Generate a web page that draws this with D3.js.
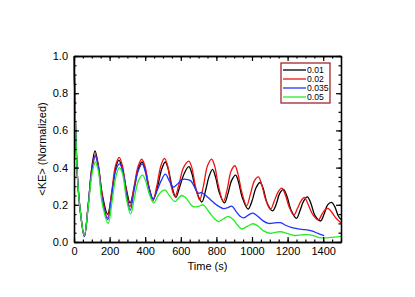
<!DOCTYPE html>
<html>
<head>
<meta charset="utf-8">
<script src="https://cdn.jsdelivr.net/npm/d3@7"></script>
<style>
  body { margin: 0; background: #fff; }
  svg { font-family: "Liberation Sans", Arial, sans-serif; }
</style>
</head>
<body>
<svg id="chart" width="415" height="297"></svg>
<script>
// kinetic energy vs time, one series per parameter value
const labels = ["0.01", "0.02", "0.035", "0.05"];
const colors = ["#000000", "#ee1111", "#2233ff", "#22ee22"];

const ke001 = [[0,1.0],[5,0.77],[10,0.58],[20,0.34],[35,0.17],[58,0.03],[80,0.2],[100,0.4],[118,0.49],[135,0.42],[160,0.25],[189,0.15],[215,0.28],[235,0.4],[252,0.44],[270,0.4],[295,0.28],[315,0.21],[340,0.3],[360,0.39],[382,0.43],[400,0.39],[420,0.3],[445,0.23],[470,0.3],[492,0.39],[513,0.43],[530,0.39],[550,0.3],[572,0.24],[595,0.3],[620,0.37],[645,0.405],[662,0.37],[682,0.29],[718,0.215],[740,0.28],[758,0.35],[778,0.39],[795,0.35],[815,0.27],[845,0.21],[865,0.26],[885,0.33],[908,0.36],[925,0.32],[945,0.24],[978,0.177],[1000,0.22],[1022,0.29],[1045,0.32],[1062,0.29],[1085,0.21],[1115,0.167],[1135,0.2],[1155,0.26],[1176,0.283],[1195,0.25],[1220,0.17],[1250,0.127],[1270,0.17],[1290,0.22],[1311,0.243],[1330,0.21],[1355,0.14],[1385,0.113],[1405,0.15],[1425,0.2],[1447,0.213],[1465,0.19],[1485,0.14],[1500,0.12]];

const ke002 = [[0,1.0],[5,0.77],[10,0.58],[20,0.34],[35,0.17],[58,0.03],[80,0.2],[100,0.39],[120,0.47],[137,0.41],[160,0.24],[188,0.13],[212,0.27],[233,0.41],[254,0.455],[272,0.41],[295,0.27],[314,0.19],[338,0.3],[358,0.4],[380,0.445],[398,0.41],[420,0.3],[443,0.22],[465,0.3],[488,0.41],[508,0.45],[526,0.41],[546,0.3],[567,0.245],[590,0.31],[615,0.4],[645,0.435],[662,0.4],[682,0.3],[706,0.226],[727,0.3],[750,0.41],[773,0.446],[790,0.41],[812,0.3],[839,0.217],[860,0.28],[882,0.38],[904,0.41],[920,0.37],[942,0.27],[970,0.195],[992,0.26],[1014,0.33],[1036,0.35],[1054,0.31],[1076,0.23],[1104,0.175],[1125,0.22],[1147,0.27],[1167,0.29],[1185,0.26],[1208,0.19],[1236,0.145],[1255,0.18],[1275,0.22],[1294,0.24],[1312,0.21],[1340,0.15],[1373,0.118],[1393,0.15],[1412,0.175],[1429,0.18],[1448,0.16],[1475,0.125],[1500,0.104]];

const ke0035 = [[0,1.0],[5,0.77],[10,0.58],[20,0.34],[35,0.17],[58,0.03],[80,0.2],[100,0.38],[120,0.46],[137,0.4],[160,0.22],[190,0.12],[212,0.25],[233,0.38],[255,0.42],[272,0.39],[295,0.25],[316,0.17],[338,0.28],[360,0.38],[383,0.42],[400,0.38],[420,0.29],[445,0.23],[468,0.28],[490,0.33],[513,0.365],[535,0.33],[558,0.295],[580,0.31],[605,0.335],[630,0.337],[655,0.33],[680,0.29],[700,0.262],[717,0.266],[740,0.25],[770,0.225],[800,0.2],[840,0.18],[865,0.185],[886,0.193],[910,0.165],[935,0.137],[955,0.13],[980,0.145],[1005,0.155],[1030,0.14],[1060,0.115],[1092,0.1],[1130,0.103],[1160,0.104],[1190,0.09],[1220,0.078],[1260,0.07],[1300,0.066],[1340,0.058],[1370,0.046],[1405,0.034]];

const ke005 = [[0,1.0],[5,0.77],[10,0.58],[20,0.34],[35,0.17],[58,0.035],[80,0.19],[100,0.36],[120,0.43],[137,0.38],[160,0.2],[192,0.1],[214,0.22],[235,0.35],[255,0.4],[272,0.37],[295,0.23],[318,0.15],[340,0.24],[362,0.33],[385,0.36],[402,0.33],[422,0.26],[448,0.21],[470,0.245],[490,0.27],[511,0.28],[532,0.255],[567,0.217],[586,0.235],[605,0.25],[625,0.24],[670,0.19],[700,0.192],[726,0.2],[760,0.16],[790,0.125],[811,0.11],[840,0.125],[867,0.138],[895,0.12],[920,0.09],[942,0.07],[975,0.085],[1005,0.098],[1035,0.085],[1065,0.06],[1100,0.047],[1130,0.052],[1160,0.055],[1200,0.045],[1240,0.035],[1280,0.038],[1310,0.04],[1345,0.034],[1380,0.024],[1420,0.022],[1460,0.026],[1500,0.03]];

const series = [ke001, ke002, ke0035, ke005];

const xTicks = [0, 200, 400, 600, 800, 1000, 1200, 1400];
const yTicks = [0, 0.2, 0.4, 0.6, 0.8, 1.0];

const margin = {top: 56, right: 74, bottom: 55, left: 74};
const width = 415, height = 297;

const svg = d3.select("#chart");

const x = d3.scaleLinear()
    .domain([0, 1500])
    .range([margin.left, width - margin.right]);

const y = d3.scaleLinear()
    .domain([0, 1])
    .range([height - margin.bottom, margin.top]);

const minorX = d3.range(0, 1501, 50);
const minorY = d3.range(0, 1.001, 0.05);

function styleAxis(g) {
  g.select(".domain").attr("stroke", "#000").attr("stroke-width", 1.3);
  g.selectAll(".tick line").attr("stroke", "#000").attr("stroke-width", 1.2);
  g.selectAll(".tick text").attr("fill", "#000").attr("font-size", 11);
}

// lines first, axes on top
const line = d3.line()
    .x(d => x(d[0]))
    .y(d => y(d[1]))
    .curve(d3.curveCatmullRom);

const plot = svg.append("g");
series.forEach((s, i) => {
  plot.append("path")
      .datum(s)
      .attr("fill", "none")
      .attr("stroke", colors[i])
      .attr("stroke-width", 1.3)
      .attr("stroke-linejoin", "round")
      .attr("d", line);
});

// bottom
svg.append("g")
    .attr("transform", `translate(0,${y(0)})`)
    .call(d3.axisBottom(x).tickValues(minorX).tickSize(-2.5).tickSizeOuter(0).tickFormat(""))
    .call(styleAxis);
svg.append("g")
    .attr("transform", `translate(0,${y(0)})`)
    .call(d3.axisBottom(x).tickValues(xTicks).tickSize(-5).tickSizeOuter(0).tickPadding(5).tickFormat(d3.format("d")))
    .call(styleAxis);

// top
svg.append("g")
    .attr("transform", `translate(0,${y(1)})`)
    .call(d3.axisTop(x).tickValues(minorX).tickSize(-2.5).tickSizeOuter(0).tickFormat(""))
    .call(styleAxis);
svg.append("g")
    .attr("transform", `translate(0,${y(1)})`)
    .call(d3.axisTop(x).tickValues(xTicks).tickSize(-5).tickSizeOuter(0).tickFormat(""))
    .call(styleAxis);

// left
svg.append("g")
    .attr("transform", `translate(${x(0)},0)`)
    .call(d3.axisLeft(y).tickValues(minorY).tickSize(-2.5).tickSizeOuter(0).tickFormat(""))
    .call(styleAxis);
svg.append("g")
    .attr("transform", `translate(${x(0)},0)`)
    .call(d3.axisLeft(y).tickValues(yTicks).tickSize(-5).tickSizeOuter(0).tickPadding(6).tickFormat(d3.format(".1f")))
    .call(styleAxis);

// right
svg.append("g")
    .attr("transform", `translate(${x(1500)},0)`)
    .call(d3.axisRight(y).tickValues(minorY).tickSize(-2.5).tickSizeOuter(0).tickFormat(""))
    .call(styleAxis);
svg.append("g")
    .attr("transform", `translate(${x(1500)},0)`)
    .call(d3.axisRight(y).tickValues(yTicks).tickSize(-5).tickSizeOuter(0).tickFormat(""))
    .call(styleAxis);

// axis titles
svg.append("text")
    .attr("x", (x(0) + x(1500)) / 2)
    .attr("y", 270)
    .attr("text-anchor", "middle")
    .attr("font-size", 11)
    .text("Time (s)");

svg.append("text")
    .attr("transform", `translate(46,${(y(0) + y(1)) / 2}) rotate(-90)`)
    .attr("text-anchor", "middle")
    .attr("font-size", 11)
    .text("<KE> (Normalized)");

// legend
const legend = svg.append("g").attr("transform", "translate(281,63)");
legend.append("rect")
    .attr("width", 49)
    .attr("height", 40)
    .attr("fill", "#fff")
    .attr("stroke", "#a02828")
    .attr("stroke-width", 1.3);
labels.forEach((lab, i) => {
  const ly = 7 + i * 9;
  legend.append("line")
      .attr("x1", 2).attr("x2", 25)
      .attr("y1", ly).attr("y2", ly)
      .attr("stroke", colors[i])
      .attr("stroke-width", 1.3);
  legend.append("text")
      .attr("x", 26)
      .attr("y", ly + 3)
      .attr("font-size", 8.6)
      .text(lab);
});
</script>
</body>
</html>
